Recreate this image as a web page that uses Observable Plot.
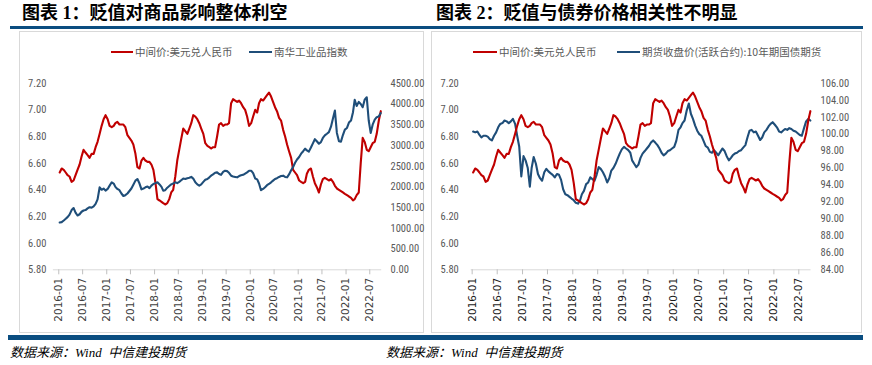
<!DOCTYPE html>
<html><head><meta charset="utf-8">
<script src="https://cdn.jsdelivr.net/npm/d3@7"></script>
<script src="https://cdn.jsdelivr.net/npm/@observablehq/plot@0.6"></script>
<style>
body{margin:0;background:#fff;}
#page{position:relative;width:872px;height:365px;background:#fff;overflow:hidden;font-family:"Noto Sans CJK SC",sans-serif;}
.abs{position:absolute;}
.title{font-family:"Liberation Serif","Noto Sans CJK SC",serif;font-size:18px;line-height:20px;font-weight:700;color:#000;white-space:nowrap;}
.bar{background:#0a4d80;}
.box{border:1.5px solid #d9d9d9;box-sizing:border-box;}
.leg{font-size:10.5px;line-height:12px;color:#595959;white-space:nowrap;}
.mk{height:2.5px;width:23px;}
.src{font-family:"Liberation Serif","Noto Sans CJK SC",serif;font-style:italic;font-size:13px;line-height:16px;color:#000;white-space:nowrap;}
.plot{position:absolute;top:0;}
</style></head>
<body><div id="page">
<div class="abs title" style="left:22px;top:3px;">图表 1：贬值对商品影响整体利空</div>
<div class="abs title" style="left:436px;top:3px;">图表 2：贬值与债券价格相关性不明显</div>
<div class="abs bar" style="left:10px;top:26px;width:853px;height:3px;"></div>
<div class="abs box" style="left:19px;top:31px;width:405px;height:302px;"></div>
<div class="abs box" style="left:431px;top:31px;width:431px;height:302px;"></div>
<div class="abs bar" style="left:8px;top:335px;width:855px;height:5px;"></div>
<div class="abs src" style="left:10px;top:345px;">数据来源：Wind&nbsp; 中信建投期货</div>
<div class="abs src" style="left:386px;top:345px;">数据来源：Wind&nbsp; 中信建投期货</div>
<div id="legend"></div>
<div id="plots"></div>
</div>
<script>
// ---- data (semi-monthly samples, 2016-01 .. 2022-09) ----
const seriesNames = ["中间价:美元兑人民币", "南华工业品指数", "期货收盘价(活跃合约):10年期国债期货"];
const xTickLabels = ["2016-01","2016-07","2017-01","2017-07","2018-01","2018-07","2019-01","2019-07","2020-01","2020-07","2021-01","2021-07","2022-01","2022-07"];
const cnyTicks = [5.8, 6.0, 6.2, 6.4, 6.6, 6.8, 7.0, 7.2];
const nanhuaTicks = [0, 500, 1000, 1500, 2000, 2500, 3000, 3500, 4000, 4500];
const bondTicks = [84, 86, 88, 90, 92, 94, 96, 98, 100, 102, 104, 106];

const usdcny = [
  6.53,6.56, 6.55,6.53, 6.51,6.50, 6.46,6.47, 6.51,6.55, 6.59,6.65, 6.70,6.68, 6.66,6.64, 6.67,6.67, 6.72,6.76, 6.82,6.88, 6.93,6.96,
  6.93,6.88, 6.87,6.88, 6.90,6.91, 6.89,6.89, 6.89,6.87, 6.81,6.79, 6.77,6.74, 6.67,6.57, 6.56,6.62, 6.64,6.62, 6.61,6.61, 6.59,6.55,
  6.45,6.33, 6.32,6.31, 6.30,6.29, 6.30,6.33, 6.38,6.40, 6.50,6.62, 6.70,6.78, 6.86,6.84, 6.82,6.86, 6.90,6.96, 6.95,6.93, 6.90,6.86,
  6.82,6.75, 6.73,6.72, 6.71,6.72, 6.72,6.80, 6.89,6.90, 6.88,6.89, 6.89,6.90, 7.05,7.08, 7.07,7.06, 7.07,7.05, 7.02,7.00, 6.95,6.88,
  6.90,6.95, 7.00,6.98, 7.05,7.08, 7.07,7.09, 7.11,7.13, 7.10,7.06, 7.02,6.99, 6.94,6.92, 6.85,6.80, 6.74,6.69, 6.64,6.55, 6.53,6.51,
  6.47,6.46, 6.45,6.46, 6.52,6.55, 6.56,6.50, 6.45,6.42, 6.38,6.44, 6.48,6.49, 6.48,6.47, 6.48,6.46, 6.43,6.41, 6.40,6.39, 6.38,6.37,
  6.36,6.35, 6.34,6.32, 6.33,6.36, 6.38,6.60, 6.79,6.76, 6.70,6.69, 6.72,6.75, 6.76,6.82, 6.92,6.99
];
const nanhua = [
  1140,1150, 1190,1230, 1270,1330, 1440,1490, 1380,1310, 1340,1400, 1430,1440, 1480,1510, 1500,1530, 1590,1700, 1990,1930, 1960,1910,
  1950,2030, 2110,2080, 2000,1950, 1920,1840, 1780,1800, 1840,1900, 1960,2050, 2150,2190, 2080,1940, 1960,1990, 2010,1970, 2030,2070,
  2090,2110, 2060,2000, 1910,1920, 1980,2020, 2060,2080, 2110,2090, 2120,2160, 2200,2190, 2210,2220, 2240,2200, 2110,2060, 2030,2060,
  2120,2170, 2190,2230, 2270,2300, 2340,2350, 2310,2290, 2360,2390, 2380,2340, 2270,2250, 2240,2230, 2260,2280, 2290,2320, 2350,2390,
  2390,2330, 2200,2180, 2080,1920, 1950,1990, 2040,2070, 2110,2150, 2190,2210, 2240,2260, 2270,2240, 2230,2300, 2400,2480, 2580,2660,
  2720,2800, 2860,2920, 2880,2850, 2950,3050, 3150,3100, 3040,3080, 3180,3240, 3280,3320, 3450,3650, 3840,3300, 3100,3090, 3250,3380,
  3420,3550, 3600,3800, 4100,3950, 4050,4000, 3920,4100, 4160,3600, 3300,3500, 3620,3680, 3700,3780
];
const bond10y = [
  100.3,100.2, 100.3,99.9, 99.6,99.8, 99.8,99.7, 99.4,99.25, 99.8,100.2, 100.8,101.2, 101.3,101.6, 101.5,101.3, 101.5,101.8, 101.2,99.8, 98.5,95.0,
  97.4,96.9, 96.0,93.8, 96.0,97.3, 96.5,95.3, 94.8,94.5, 95.5,95.9, 95.6,95.4, 95.2,94.9, 95.3,95.2, 94.6,93.5, 92.9,92.8, 92.6,92.4,
  92.2,91.9, 91.8,92.2, 92.9,93.3, 94.1,94.3, 94.9,94.7, 94.5,95.2, 96.1,95.9, 95.5,95.0, 94.3,94.8, 95.7,96.0, 96.5,97.1, 97.7,98.2,
  98.5,98.3, 98.1,97.8, 96.9,96.5, 96.1,96.4, 97.2,97.7, 98.0,98.3, 98.6,99.0, 99.25,99.0, 98.7,98.3, 97.8,97.5, 97.7,98.0, 98.1,98.3,
  98.5,99.2, 100.5,100.8, 101.3,101.6, 102.8,103.6, 102.4,101.8, 101.0,100.4, 100.0,99.8, 99.2,98.6, 98.4,97.9, 97.8,98.1, 97.8,97.5, 97.9,98.3,
  98.0,97.4, 96.9,97.2, 97.5,97.7, 97.8,98.0, 98.1,98.4, 98.7,99.6, 100.4,100.5, 100.2,100.3, 99.8,99.3, 99.6,100.2, 100.5,100.9, 101.2,101.4,
  101.1,100.8, 100.3,100.2, 100.4,100.6, 100.5,100.7, 100.6,100.4, 100.3,100.1, 99.9,99.8, 100.7,101.5, 101.8,101.6
];

// sample dates: 8th and 23rd of each month from 2016-01
const sampleDates = usdcny.map((_, i) => new Date(Date.UTC(2016, Math.floor(i / 2), i % 2 ? 23 : 8)));
const toRows = vals => vals.map((v, i) => ({date: sampleDates[i], value: v}));
const cnyRows = toRows(usdcny), nanhuaRows = toRows(nanhua), bondRows = toRows(bond10y);
const xTickDates = xTickLabels.map(s => new Date(s + "-01T00:00:00Z"));

const RED = "#c00000", BLUE = "#1f4e79";
const numFont = "'Liberation Sans Narrow','Arial Narrow','Roboto Condensed','Liberation Sans',sans-serif";
const fmt2 = d3.format(".2f");

function layer(o) {
  const marks = [];
  if (o.xAxis) {
    marks.push(Plot.ruleY([o.yDomain[0]], {stroke: "#d9d9d9", strokeWidth: 1}));
    marks.push(Plot.axisX({ticks: xTickDates, tickFormat: d3.utcFormat("%Y-%m"), tickRotate: -90,
      tickSize: 5, tickPadding: 3, stroke: "#bfbfbf", fill: o.xColor, fontSize: 10.5,
      fontFamily: "DejaVu Sans", label: null}));
  }
  marks.push(Plot.axisY({anchor: o.anchor, ticks: o.yTicks, tickFormat: fmt2, tickSize: 0,
    tickPadding: o.pad, fill: "#595959", fontSize: 10.5, fontFamily: numFont, label: null}));
  marks.push(Plot.lineY(o.data, {x: "date", y: "value", stroke: o.color, strokeWidth: 2.1}));
  const svg = Plot.plot({
    width: 436, height: 345,
    marginLeft: o.mL, marginRight: o.mR, marginTop: 82.7, marginBottom: 75.7,
    x: o.xAxis ? {type: "utc", domain: o.xDomain} : {type: "utc", domain: o.xDomain, axis: null},
    y: {domain: o.yDomain},
    style: {background: "transparent", overflow: "visible", fontFamily: numFont, fontSize: "10.5px"},
    marks
  });
  svg.classList.add("plot");
  svg.style.position = "absolute";
  svg.style.left = o.left + "px";
  svg.style.top = "0px";
  document.getElementById("plots").appendChild(svg);
}

const leftDomain = [new Date("2015-11-21T00:00:00Z"), new Date("2022-09-30T00:00:00Z")];
const rightDomain = [new Date("2015-12-25T00:00:00Z"), new Date("2022-09-28T00:00:00Z")];

// Panel 1
layer({left: 0, mL: 52.9, mR: 54.8, xDomain: leftDomain, yDomain: [5.8, 7.2], yTicks: cnyTicks,
  anchor: "left", pad: 7, data: cnyRows, color: RED, xAxis: true, xColor: "#404040"});
layer({left: 0, mL: 52.9, mR: 54.8, xDomain: leftDomain, yDomain: [0, 4500], yTicks: nanhuaTicks,
  anchor: "right", pad: 8.8, data: nanhuaRows, color: BLUE, xAxis: false});
// Panel 2
layer({left: 436, mL: 34.7, mR: 61.45, xDomain: rightDomain, yDomain: [84, 106], yTicks: bondTicks,
  anchor: "right", pad: 9.5, data: bondRows, color: BLUE, xAxis: false});
layer({left: 436, mL: 34.7, mR: 61.45, xDomain: rightDomain, yDomain: [5.8, 7.2], yTicks: cnyTicks,
  anchor: "left", pad: 12.4, data: cnyRows, color: RED, xAxis: true, xColor: "#1a1a1a"});

// legends
const legendItems = [
  {mx: 111, tx: 135, color: RED, label: seriesNames[0]},
  {mx: 249, tx: 274, color: BLUE, label: seriesNames[1]},
  {mx: 473, tx: 499, color: RED, label: seriesNames[0]},
  {mx: 617, tx: 642, color: BLUE, label: seriesNames[2]}
];
const leg = document.getElementById("legend");
for (const it of legendItems) {
  const m = document.createElement("div");
  m.className = "abs mk"; m.style.left = it.mx + "px"; m.style.top = "50.5px"; m.style.width = (it.tx - it.mx - 2) + "px";
  m.style.background = it.color; leg.appendChild(m);
  const t = document.createElement("div");
  t.className = "abs leg"; t.style.left = it.tx + "px"; t.style.top = "45.5px"; t.textContent = it.label;
  leg.appendChild(t);
}
</script>
</body></html>
